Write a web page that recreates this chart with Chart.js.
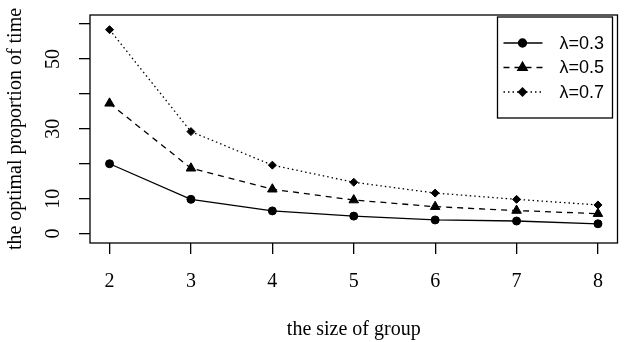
<!DOCTYPE html>
<html>
<head>
<meta charset="utf-8">
<script src="https://cdn.jsdelivr.net/npm/chart.js@4.4.0/dist/chart.umd.min.js"></script>
<style>
  html, body { margin: 0; padding: 0; background: #fff; }
  #wrap { width: 624px; height: 342px; }
</style>
</head>
<body>
<div id="wrap"><canvas id="chart" width="624" height="342"></canvas></div>
<script>
// values
const groupSizes = [2, 3, 4, 5, 6, 7, 8];
const lambda03 = [20.0, 9.8, 6.5, 5.0, 3.9, 3.6, 2.8];
const lambda05 = [37.3, 18.7, 12.7, 9.6, 7.7, 6.6, 5.7];
const lambda07 = [58.4, 29.2, 19.6, 14.7, 11.6, 9.8, 8.2];
const seriesLabels = ['λ=0.3', 'λ=0.5', 'λ=0.7'];

const xTickValues = [2, 3, 4, 5, 6, 7, 8];
const yTickValues = [0, 10, 20, 30, 40, 50, 60];
const yTickLabels = ['0', '10', '', '30', '', '50', ''];

const serif = "'Liberation Serif', 'DejaVu Serif', serif";
const sans = "'Liberation Sans', Arial, sans-serif";

function points(ys) {
  return groupSizes.map((x, i) => ({ x: x, y: ys[i] }));
}

// box round the plot region, like R's box()
const frame = {
  id: 'frame',
  afterDatasetsDraw(chart) {
    const a = chart.chartArea;
    const ctx = chart.ctx;
    ctx.save();
    ctx.strokeStyle = '#000';
    ctx.lineWidth = 1.3;
    ctx.strokeRect(a.left, a.top, a.right - a.left, a.bottom - a.top);
    ctx.restore();
  }
};

// legend in the top right corner: line sample + marker + label
const boxLegend = {
  id: 'boxLegend',
  afterDraw(chart) {
    const ctx = chart.ctx;
    const a = chart.chartArea;
    const x0 = a.right - 120, y0 = a.top + 2;
    const w = 115, h = 101;
    ctx.save();
    ctx.strokeStyle = '#000';
    ctx.lineWidth = 1.3;
    ctx.strokeRect(x0, y0, w, h);
    chart.data.datasets.forEach((ds, i) => {
      const y = y0 + 26 + i * 24.5;
      ctx.setLineDash(ds.borderDash || []);
      ctx.lineWidth = ds.borderWidth;
      ctx.strokeStyle = '#000';
      ctx.beginPath();
      ctx.moveTo(x0 + 6, y);
      ctx.lineTo(x0 + 45, y);
      ctx.stroke();
      ctx.setLineDash([]);
      Chart.helpers.drawPoint(ctx, {
        pointStyle: ds.pointStyle,
        radius: ds.pointRadius,
        rotation: 0,
        borderWidth: 1
      }, x0 + 25, y);
      ctx.fillStyle = '#000';
      ctx.font = "18px " + sans;
      ctx.textAlign = 'left';
      ctx.textBaseline = 'middle';
      ctx.fillText(ds.label, x0 + 62, y + 1);
    });
    ctx.restore();
  }
};

const lineStyle = {
  borderColor: '#000',
  backgroundColor: '#000',
  pointBackgroundColor: '#000',
  pointBorderColor: '#000',
  borderWidth: 1.3,
  pointBorderWidth: 1,
  tension: 0,
  fill: false
};

new Chart(document.getElementById('chart'), {
  type: 'line',
  data: {
    datasets: [
      Object.assign({}, lineStyle, { label: seriesLabels[0], data: points(lambda03), pointStyle: 'circle', pointRadius: 4 }),
      Object.assign({}, lineStyle, { label: seriesLabels[1], data: points(lambda05), pointStyle: 'triangle', pointRadius: 5.5, borderDash: [6, 5] }),
      Object.assign({}, lineStyle, { label: seriesLabels[2], data: points(lambda07), pointStyle: 'rectRot', pointRadius: 4, borderDash: [1.5, 3] })
    ]
  },
  options: {
    responsive: false,
    animation: false,
    devicePixelRatio: 1,
    layout: { padding: { top: 15, right: 5, left: 0, bottom: 0 } },
    plugins: {
      legend: { display: false },
      tooltip: { enabled: false }
    },
    scales: {
      x: {
        type: 'linear',
        min: 1.76,
        max: 8.24,
        afterBuildTicks: s => { s.ticks = xTickValues.map(v => ({ value: v })); },
        afterFit: s => { s.height = 99; s.paddingLeft = 0; s.paddingRight = 0; },
        grid: { drawOnChartArea: false, drawTicks: true, tickLength: 11, tickColor: '#000', lineWidth: 1.3 },
        border: { display: false },
        ticks: {
          color: '#000',
          font: { family: serif, size: 20 },
          padding: 16,
          maxRotation: 0,
          callback: v => String(v)
        },
        title: {
          display: true,
          text: 'the size of group',
          color: '#000',
          font: { family: serif, size: 20 },
          padding: { top: 0, bottom: 0 }
        }
      },
      y: {
        type: 'linear',
        min: -2.7,
        max: 62.6,
        afterBuildTicks: s => { s.ticks = yTickValues.map(v => ({ value: v })); },
        afterFit: s => { s.width = 90; s.paddingTop = 0; s.paddingBottom = 0; },
        grid: { drawOnChartArea: false, drawTicks: true, tickLength: 11, tickColor: '#000', lineWidth: 1.3 },
        border: { display: false },
        ticks: {
          color: '#000',
          font: { family: serif, size: 20 },
          padding: 15,
          minRotation: 90,
          maxRotation: 90,
          crossAlign: 'center',
          callback: v => yTickLabels[yTickValues.indexOf(v)]
        },
        title: {
          display: true,
          text: 'the optimal proportion of time',
          color: '#000',
          font: { family: serif, size: 20 },
          padding: { top: 4, bottom: 0 }
        }
      }
    }
  },
  plugins: [frame, boxLegend]
});
</script>
</body>
</html>
